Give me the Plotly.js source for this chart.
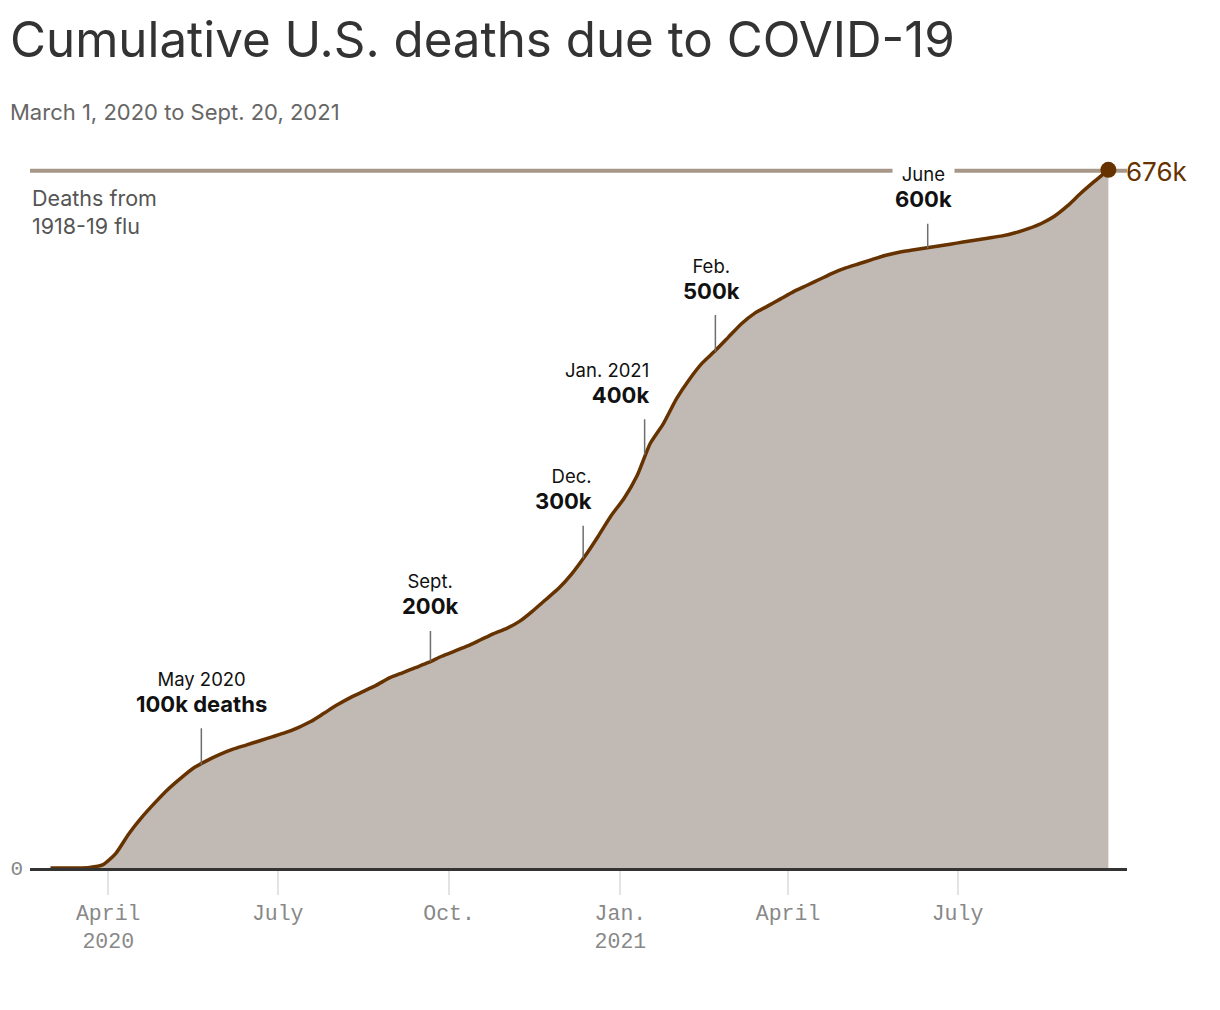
<!DOCTYPE html>
<html>
<head>
<meta charset="utf-8">
<script src="https://cdn.plot.ly/plotly-3.0.1.min.js"></script>
<style>
  html, body { margin: 0; padding: 0; background: #fff; }
  #chart { width: 1220px; height: 1010px; }
</style>
</head>
<body>
<div id="chart"></div>
<script>
// Weekly cumulative U.S. COVID-19 deaths (thousands)
const dates = [
  '2020-03-01','2020-03-08','2020-03-15','2020-03-22','2020-03-29',
  '2020-04-05','2020-04-12','2020-04-19','2020-04-26',
  '2020-05-03','2020-05-10','2020-05-17','2020-05-24','2020-05-31',
  '2020-06-07','2020-06-14','2020-06-21','2020-06-28',
  '2020-07-05','2020-07-12','2020-07-19','2020-07-26',
  '2020-08-02','2020-08-09','2020-08-16','2020-08-23','2020-08-30',
  '2020-09-06','2020-09-13','2020-09-20','2020-09-27',
  '2020-10-04','2020-10-11','2020-10-18','2020-10-25',
  '2020-11-01','2020-11-08','2020-11-15','2020-11-22','2020-11-29',
  '2020-12-06','2020-12-13','2020-12-20','2020-12-27',
  '2021-01-03','2021-01-10','2021-01-17','2021-01-24','2021-01-31',
  '2021-02-07','2021-02-14','2021-02-21','2021-02-28',
  '2021-03-07','2021-03-14','2021-03-21','2021-03-28',
  '2021-04-04','2021-04-11','2021-04-18','2021-04-25',
  '2021-05-02','2021-05-09','2021-05-16','2021-05-23','2021-05-30',
  '2021-06-06','2021-06-13','2021-06-20','2021-06-27',
  '2021-07-04','2021-07-11','2021-07-18','2021-07-25',
  '2021-08-01','2021-08-08','2021-08-15','2021-08-22','2021-08-29',
  '2021-09-05','2021-09-12','2021-09-20'
];
const deathsK = [
  0, 0.02, 0.1, 0.6, 3,
  14, 33, 49, 63,
  76, 87, 97, 104, 110,
  115, 119, 123, 127,
  131, 136, 142, 150,
  158, 165, 171, 177, 184,
  189, 194, 199, 205,
  210, 215, 221, 227,
  232, 239, 249, 260, 271,
  285, 302, 321, 341,
  358, 380, 411, 430, 454,
  473, 489, 501, 514,
  527, 537, 544, 551,
  558, 564, 570, 576,
  581, 585, 589, 593, 596,
  598, 600, 602, 604,
  606, 608, 610, 612,
  615, 619, 624, 631, 641,
  653, 664, 676
];
const FLU_DEATHS_K = 675;
const latestLabel = '676k';

const milestoneDates  = ['2020-05-21','2020-09-21','2020-12-12','2021-01-14','2021-02-21','2021-06-15'];
const milestoneValues = [100, 200, 300, 400, 500, 600];
const milestoneMonths = ['May 2020','Sept.','Dec.','Jan. 2021','Feb.','June'];
const milestoneLabels = ['100k deaths','200k','300k','400k','500k','600k'];

const tickDates  = ['2020-04-01','2020-07-01','2020-10-01','2021-01-01','2021-04-01','2021-07-01'];
const tickLabels = ['April<br>2020','July','Oct.','Jan.<br>2021','April','July'];

// styling (not data)
const stemLen   = [38, 32, 34, 37, 38, 26];
const labelAnchor = ['center','center','right','right','center','center'];
const labelShift  = [0, 0, 12, 7, -4, -4];

const BROWN = '#663300';
const FILL = '#c1b9b3';
const FLU = '#a69789';
const SANS = 'Inter, "Noto Sans", sans-serif';
const MONO = '"Liberation Mono", "DejaVu Sans Mono", monospace';

const traces = [
  {
    x: dates, y: deathsK, type: 'scatter', mode: 'lines',
    line: { color: BROWN, width: 3.5, shape: 'spline', smoothing: 0.6 },
    fill: 'tozeroy', fillcolor: FILL, hoverinfo: 'skip'
  },
  {
    x: [dates[dates.length - 1]], y: [deathsK[deathsK.length - 1]],
    type: 'scatter', mode: 'markers',
    marker: { color: BROWN, size: 16 }, hoverinfo: 'skip'
  }
];

const annotations = [];
milestoneDates.forEach((d, i) => {
  annotations.push({
    x: d, y: milestoneValues[i], xref: 'x', yref: 'y',
    text: '', showarrow: true, arrowhead: 0, arrowwidth: 1.5, arrowcolor: '#6e6e6e',
    ax: 0, ay: -stemLen[i], standoff: 0, startstandoff: 0
  });
  annotations.push({
    x: d, y: milestoneValues[i], xref: 'x', yref: 'y', showarrow: false,
    xanchor: labelAnchor[i], yanchor: 'bottom', align: labelAnchor[i] === 'right' ? 'right' : 'center',
    xshift: labelShift[i], yshift: stemLen[i] + 7,
    bgcolor: i === 5 ? '#ffffff' : 'rgba(0,0,0,0)', borderpad: 2,
    text: '<span style="font-size:18.5px">' + milestoneMonths[i] + '</span><br><b><span style="font-size:22px">' + milestoneLabels[i] + '</span></b>',
    font: { family: SANS, size: 20, color: '#111' }
  });
});
annotations.push({
  x: dates[dates.length - 1], y: deathsK[deathsK.length - 1], xref: 'x', yref: 'y',
  showarrow: false, xanchor: 'left', yanchor: 'middle', xshift: 16, yshift: -2,
  text: latestLabel, font: { family: SANS, size: 26, color: BROWN }
});
annotations.push({
  x: 0, y: FLU_DEATHS_K, xref: 'paper', yref: 'y', showarrow: false,
  xanchor: 'left', yanchor: 'top', xshift: 0, yshift: -12, align: 'left',
  text: 'Deaths from<br>1918-19 flu', font: { family: SANS, size: 21.5, color: '#555' }
});
annotations.push({
  x: -0.0205, y: 1.0457, xref: 'paper', yref: 'paper', showarrow: false,
  xanchor: 'left', yanchor: 'middle', align: 'left',
  text: 'March 1, 2020 to Sept. 20, 2021', font: { family: SANS, size: 22, color: '#666' }
});

const layout = {
  width: 1220, height: 1010,
  paper_bgcolor: '#fff', plot_bgcolor: '#fff',
  margin: { l: 30, r: 93, t: 145, b: 142 },
  showlegend: false,
  title: {
    text: 'Cumulative U.S. deaths due to COVID-19',
    x: 0, xref: 'container', xanchor: 'left', y: 1, yref: 'container', yanchor: 'top',
    pad: { l: 10, t: 22 },
    font: { family: SANS, size: 49.3, color: '#333' }
  },
  xaxis: {
    type: 'date', range: ['2020-02-19', '2021-09-30'],
    tickvals: tickDates, ticktext: tickLabels,
    ticks: 'outside', ticklen: 24, tickwidth: 2, tickcolor: '#e3e3e3',
    showline: true, linecolor: '#333', linewidth: 2.5,
    showgrid: false, zeroline: false,
    tickfont: { family: MONO, size: 21.5, color: '#888' }
  },
  yaxis: {
    range: [0, 700], tickvals: [0], ticktext: ['0'],
    showgrid: false, zeroline: false, showline: false, ticks: '',
    tickfont: { family: MONO, size: 21, color: '#888' }, ticklabelstandoff: 6
  },
  shapes: [{
    type: 'line', xref: 'paper', yref: 'y', x0: 0, x1: 1,
    y0: FLU_DEATHS_K, y1: FLU_DEATHS_K, layer: 'below',
    line: { color: FLU, width: 4 }
  }],
  annotations: annotations
};

Plotly.newPlot('chart', traces, layout, { displayModeBar: false, staticPlot: true });
</script>
</body>
</html>
